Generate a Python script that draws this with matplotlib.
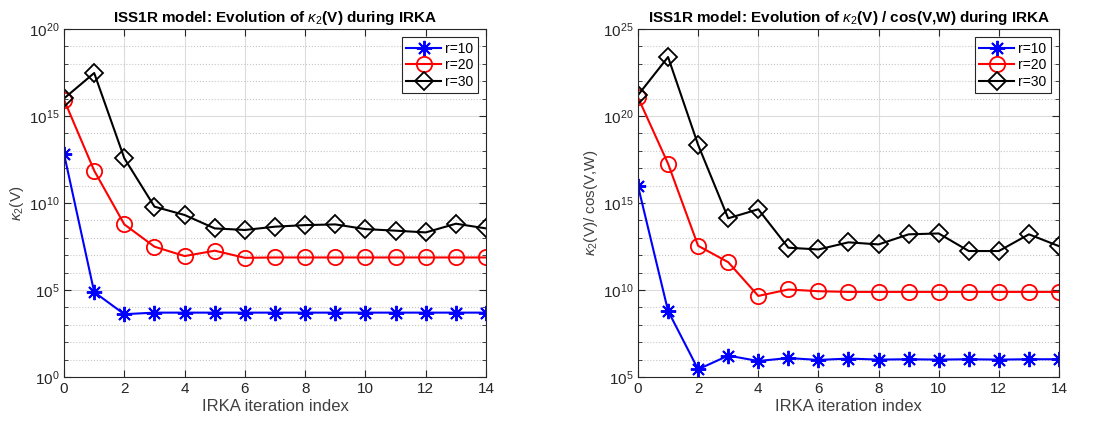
import numpy as np
import matplotlib.pyplot as plt
from matplotlib.ticker import FixedLocator, LogFormatterSciNotation

plt.rcParams['font.family'] = ['Liberation Sans', 'DejaVu Sans']
plt.rcParams['mathtext.fontset'] = 'custom'
plt.rcParams['mathtext.rm'] = 'Liberation Sans'
plt.rcParams['mathtext.it'] = 'Liberation Sans:italic'

iters = np.arange(15)
labels = ['r=10', 'r=20', 'r=30']

# log10 of kappa_2(V)
kappa_r10 = [12.82, 4.88, 3.61, 3.70, 3.70, 3.70, 3.70, 3.70, 3.70, 3.70, 3.70, 3.70, 3.70, 3.70, 3.70]
kappa_r20 = [15.93, 11.86, 8.77, 7.49, 6.95, 7.26, 6.85, 6.87, 6.87, 6.87, 6.87, 6.87, 6.87, 6.87, 6.87]
kappa_r30 = [16.01, 17.47, 12.57, 9.79, 9.31, 8.54, 8.45, 8.64, 8.73, 8.77, 8.50, 8.41, 8.31, 8.81, 8.54]

# log10 of kappa_2(V) / cos(V,W)
ratio_r10 = [15.98, 8.80, 5.44, 6.23, 5.92, 6.09, 5.98, 6.06, 6.00, 6.02, 6.00, 6.02, 6.00, 6.02, 6.02]
ratio_r20 = [21.07, 17.26, 12.54, 11.60, 9.66, 10.03, 9.93, 9.89, 9.89, 9.89, 9.89, 9.89, 9.89, 9.89, 9.89]
ratio_r30 = [21.20, 23.39, 18.34, 14.12, 14.64, 12.43, 12.33, 12.74, 12.62, 13.20, 13.25, 12.24, 12.24, 13.20, 12.52]

# matlab-ish '*' is a plus and an x on top of each other
styles = [dict(color='#0000ff', marker=(8, 2, 0), ms=11, mfc='none', mew=1.4),
          dict(color='#ff0000', marker='o', ms=11, mfc='none', mew=1.3),
          dict(color='#000000', marker='D', ms=9, mfc='none', mew=1.3)]

fig = plt.figure(figsize=(10.93, 4.21), dpi=100)
ax1 = fig.add_axes([0.0586, 0.1045, 0.3861, 0.8266])
ax2 = fig.add_axes([0.5837, 0.1045, 0.3852, 0.8266])

panels = [
    (ax1, [kappa_r10, kappa_r20, kappa_r30], (0, 20),
     r'ISS1R model: Evolution of $\kappa_2$(V) during IRKA', r'$\kappa_2$(V)'),
    (ax2, [ratio_r10, ratio_r20, ratio_r30], (5, 25),
     r'ISS1R model: Evolution of $\kappa_2$(V) / cos(V,W) during IRKA', r'$\kappa_2$(V)/ cos(V,W)'),
]

tc = '#262626'
for ax, series, (lo, hi), title, ylabel in panels:
    for vals, lab, st in zip(series, labels, styles):
        ax.semilogy(iters, 10.0 ** np.array(vals), lw=1.5, label=lab, **st)
    ax.set_xlim(0, 14)
    ax.set_ylim(10.0 ** lo, 10.0 ** hi)
    ax.set_xticks(np.arange(0, 15, 2))
    ax.yaxis.set_major_locator(FixedLocator(10.0 ** np.arange(lo, hi + 1, 5)))
    ax.yaxis.set_minor_locator(FixedLocator(10.0 ** np.arange(lo, hi + 1, 1)))
    ax.yaxis.set_major_formatter(LogFormatterSciNotation())
    ax.yaxis.set_minor_formatter(plt.NullFormatter())
    ax.grid(True, which='major', color='#dcdcdc', lw=0.8)
    ax.grid(True, which='minor', axis='y', color='#c8c8c8', lw=0.8, ls=':')
    ax.set_axisbelow(True)
    ax.tick_params(which='both', direction='in', top=True, right=True, colors=tc, labelsize=11)
    ax.tick_params(which='major', length=5)
    ax.tick_params(which='minor', length=3)
    for s in ax.spines.values():
        s.set_color(tc)
        s.set_linewidth(0.8)
    ax.set_title(title, fontsize=11, fontweight='bold', pad=5)
    ax.set_xlabel('IRKA iteration index', fontsize=12, color='#404040', labelpad=2)
    ax.set_ylabel(ylabel, fontsize=11, color='#404040', labelpad=2)
    leg = ax.legend(loc='upper right', fontsize=10, fancybox=False, framealpha=1,
                    edgecolor=tc, borderpad=0.3, labelspacing=0.2, handlelength=2.5,
                    handletextpad=0.3, borderaxespad=0.6)
    leg.get_frame().set_linewidth(0.8)

fig.savefig('out.png', dpi=100)
